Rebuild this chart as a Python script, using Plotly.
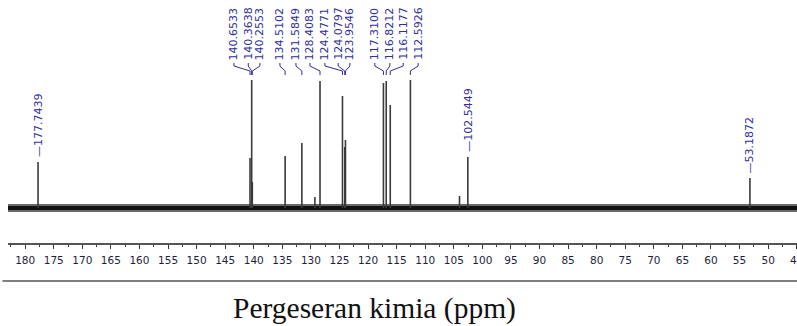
import plotly.graph_objects as go

# ---------------- data ----------------
peak_ppm = [177.7439, 140.6533, 140.3638, 140.2553, 134.5102, 131.5849, 129.3,
            128.4083, 124.4771, 124.0797, 123.9546, 117.3100, 116.8212, 116.1177,
            112.5926, 104.0, 102.5449, 53.1872]
peak_height = [46, 50, 128, 26, 52, 65, 11,
               127, 112, 61, 68, 125, 127, 103,
               128, 12, 51, 30]

# labelled peaks drawn with a straight dash right above the peak
single_ppm = [177.7439, 102.5449, 53.1872]
single_height = [46, 51, 30]

# labelled peaks in crowded groups (text at the top, bent connectors)
cluster_ppm = [140.6533, 140.3638, 140.2553, 134.5102, 131.5849, 128.4083,
               124.4771, 124.0797, 123.9546, 117.3100, 116.8212, 116.1177, 112.5926]

tick_values = list(range(45, 185, 5))
tick_labels = [str(v) for v in tick_values]
x_title = "Pergeseran kimia (ppm)"

# ---------------- layout constants ----------------
X_RANGE = [183.0, 44.95]
BASE_TOP = 208            # data y of plot top (pixel 0)
Y_RANGE = [-35, BASE_TOP]
# horizontal positions (ppm) of the crowded label columns
cluster_label_x = [143.46, 140.96, 138.92, 135.42, 132.62, 130.17, 127.55,
                   125.23, 123.18, 118.81, 116.19, 113.86, 111.24]
LABEL_BLUE = "#2e2e9e"
LABEL_FONT = dict(family="DejaVu Sans", size=11, color=LABEL_BLUE)


def py(pixel_y):
    """pixel row -> data y"""
    return BASE_TOP - pixel_y


fig = go.Figure()

# baseline (noise band)
fig.add_trace(go.Scatter(x=[X_RANGE[0], X_RANGE[1]], y=[0, 0], mode="lines",
                         line=dict(color="#6a6a6a", width=8), hoverinfo="skip"))
fig.add_trace(go.Scatter(x=[X_RANGE[0], X_RANGE[1]], y=[0, 0], mode="lines",
                         line=dict(color="#111111", width=4), hoverinfo="skip"))

# peaks as sticks
xs, ys = [], []
for p, h in zip(peak_ppm, peak_height):
    xs += [p, p, None]
    ys += [0, h, None]
fig.add_trace(go.Scatter(x=xs, y=ys, mode="lines",
                         line=dict(color="#3a3a3a", width=1.6), hoverinfo="skip"))

annotations = []
shapes = []

for p, h in zip(single_ppm, single_height):
    annotations.append(dict(x=p, y=h + 4, xref="x", yref="y", text="\u2014" + f"{p:.4f}",
                            textangle=-90, showarrow=False, xanchor="center",
                            yanchor="bottom", font=LABEL_FONT, borderpad=0))

for p, lx in zip(cluster_ppm, cluster_label_x):
    annotations.append(dict(x=lx, y=py(6), xref="x", yref="y", text=f"{p:.4f}",
                            textangle=-90, showarrow=False, xanchor="center",
                            yanchor="top", font=LABEL_FONT, borderpad=0))
    path = (f"M {lx},{py(63)} L {lx},{py(66)} L {p},{py(71)} L {p},{py(75)}")
    shapes.append(dict(type="path", path=path, xref="x", yref="y",
                       line=dict(color=LABEL_BLUE, width=1)))

# separator line under the tick labels
shapes.append(dict(type="line", xref="paper", yref="paper", x0=-0.007, x1=1.0,
                   y0=1 - 281 / 243, y1=1 - 281 / 243,
                   line=dict(color="#555555", width=1.5)))

# axis title
annotations.append(dict(x=(374 - 8) / 789, y=1 - 308 / 243, xref="paper", yref="paper",
                        text=x_title, showarrow=False, xanchor="center", yanchor="middle",
                        font=dict(family="Liberation Serif", size=29.5, color="#111111")))

fig.update_layout(
    width=797, height=326,
    margin=dict(l=8, r=0, t=0, b=83, autoexpand=False),
    paper_bgcolor="white", plot_bgcolor="white",
    showlegend=False,
    annotations=annotations,
    shapes=shapes,
    xaxis=dict(range=X_RANGE, tickvals=tick_values, ticktext=tick_labels,
               automargin=False,
               showgrid=False, zeroline=False, showline=True,
               linecolor="#555555", linewidth=1.5,
               ticks="outside", ticklen=4, tickcolor="#333333", tickwidth=1,
               ticklabelstandoff=3, ticklabeloverflow="allow",
               minor=dict(dtick=2.5, tick0=0, ticks="outside", ticklen=2,
                          tickcolor="#333333", showgrid=False),
               tickfont=dict(family="DejaVu Sans", size=10.5, color="#1e1e3c")),
    yaxis=dict(range=Y_RANGE, visible=False, showgrid=False, zeroline=False),
)

fig.write_html("out.html")
